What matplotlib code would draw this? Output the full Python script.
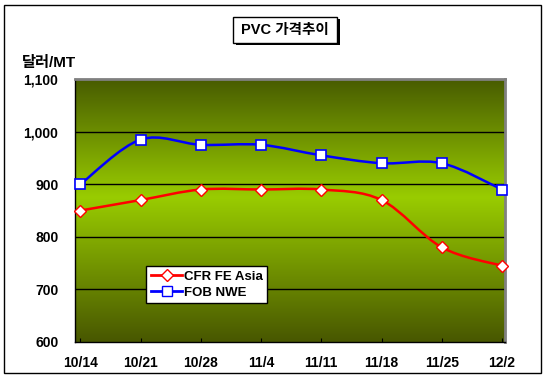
import numpy as np
import matplotlib
matplotlib.use("Agg")
import matplotlib.pyplot as plt
from matplotlib.path import Path
from matplotlib.patches import PathPatch, Rectangle
from matplotlib.lines import Line2D
from matplotlib.colors import LinearSegmentedColormap

plt.rcParams["font.family"] = ["Liberation Sans", "Noto Sans CJK KR", "DejaVu Sans"]

dates = ["10/14", "10/21", "10/28", "11/4", "11/11", "11/18", "11/25", "12/2"]
cfr_fe_asia = [850, 870, 890, 890, 890, 870, 780, 745]
fob_nwe = [900, 985, 975, 975, 955, 940, 940, 890]
y_ticks = [600, 700, 800, 900, 1000, 1100]
y_ticklabels = ["600", "700", "800", "900", "1,000", "1,100"]


def smooth_path(xs, ys):
    """Excel-like smoothed line: Catmull-Rom segments as cubic Beziers."""
    p = np.column_stack([xs, ys]).astype(float)
    n = len(p)
    verts = [p[0]]
    codes = [Path.MOVETO]
    for i in range(n - 1):
        p0 = p[i - 1] if i > 0 else p[i]
        p3 = p[i + 2] if i + 2 < n else p[i + 1]
        c1 = p[i] + (p[i + 1] - p0) / 6.0
        c2 = p[i + 1] - (p3 - p[i]) / 6.0
        verts += [c1, c2, p[i + 1]]
        codes += [Path.CURVE4] * 3
    return Path(verts, codes)


fig = plt.figure(figsize=(5.45, 3.81), dpi=100)
fig.patch.set_facecolor("white")

# outer frame of the chart
fig.add_artist(Rectangle((0.008, 0.022), 0.984, 0.966, transform=fig.transFigure,
                         fill=False, ec="black", lw=1.0))

ax = fig.add_axes([0.1376, 0.1024, 0.789, 0.690])
x = np.arange(len(dates))
ax.set_xlim(-0.09, 7.05)
ax.set_ylim(600, 1100)

# vertical gradient background: dark olive -> bright yellow-green -> dark olive
cmap = LinearSegmentedColormap.from_list(
    "bg", [(0.0, "#485700"), (0.55, "#99cc00"), (1.0, "#485c00")])
grad = np.linspace(0, 1, 256).reshape(-1, 1)
ax.imshow(grad, extent=[-0.09, 7.05, 600, 1100], origin="lower", aspect="auto",
          cmap=cmap, zorder=0)

for yv in y_ticks[1:-1]:
    ax.axhline(yv, color="black", lw=1.0, zorder=1)

for vals, col in [(fob_nwe, "#0000ff"), (cfr_fe_asia, "#ff0000")]:
    ax.add_patch(PathPatch(smooth_path(x, vals), fill=False, ec=col, lw=1.8, zorder=2))

ax.plot(x, fob_nwe, ls="none", marker="s", ms=7, mfc="white", mec="#0000ff",
        mew=1.2, zorder=3, clip_on=False)
ax.plot(x, cfr_fe_asia, ls="none", marker="D", ms=6, mfc="white", mec="#ff0000",
        mew=1.0, zorder=3, clip_on=False)

ax.set_xticks(x)
ax.set_xticklabels(dates, fontsize=10, fontweight="bold")
ax.set_yticks(y_ticks)
ax.set_yticklabels(y_ticklabels, fontsize=10, fontweight="bold")
ax.tick_params(axis="x", direction="in", length=3, pad=10, color="black")
ax.tick_params(axis="y", length=0, pad=12)

for s in ["left", "bottom"]:
    ax.spines[s].set_color("black")
    ax.spines[s].set_linewidth(1.0)
for s in ["top", "right"]:
    ax.spines[s].set_color("#808080")
    ax.spines[s].set_linewidth(2.0)

handles = [
    Line2D([], [], color="#ff0000", lw=2, marker="D", ms=6, mfc="white", mec="#ff0000"),
    Line2D([], [], color="#0000ff", lw=2, marker="s", ms=6.5, mfc="white", mec="#0000ff"),
]
leg = ax.legend(handles, ["CFR FE Asia", "FOB NWE"], loc="upper left",
                bbox_to_anchor=(0.15, 0.315), fancybox=False, framealpha=1,
                edgecolor="black", prop={"weight": "bold", "size": 9.5},
                handlelength=2.4, handletextpad=0.1, borderpad=0.35,
                labelspacing=0.3)
leg.get_frame().set_linewidth(1.0)
leg.set_zorder(5)

fig.text(0.04, 0.835, "달러/MT", fontsize=11, fontweight="bold", ha="left", va="center")

# title box with shadow
fig.add_artist(Rectangle((0.433, 0.882), 0.19, 0.068, transform=fig.transFigure,
                         fc="black", ec="black", lw=0))
fig.add_artist(Rectangle((0.428, 0.888), 0.19, 0.068, transform=fig.transFigure,
                         fc="white", ec="black", lw=1.0))
fig.text(0.523, 0.921, "PVC 가격추이", fontsize=10.5, fontweight="bold",
         ha="center", va="center")

fig.savefig("out.png", dpi=100)
